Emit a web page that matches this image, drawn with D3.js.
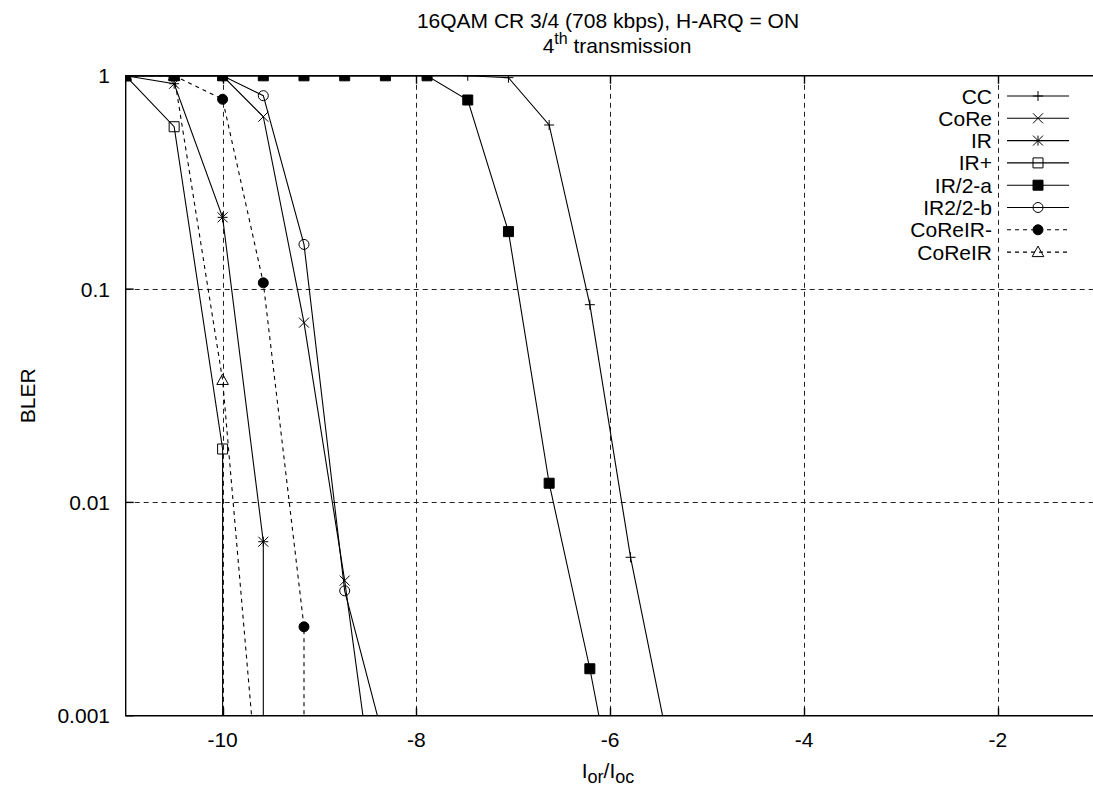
<!DOCTYPE html>
<html>
<head>
<meta charset="utf-8">
<script src="https://cdn.jsdelivr.net/npm/d3@7"></script>
<style>
  body { margin: 0; background: #fff; }
  svg { display: block; font-family: "Liberation Sans", Arial, Helvetica, sans-serif; }
</style>
</head>
<body>
<svg width="1093" height="787"></svg>
<script>
// I_or/I_oc levels (dB) and BLER per scheme.
// Values below 0.001 only set the slope of the last segment (clipped).
const cc = [[-11, 1], [-10.5, 1], [-10, 1], [-9.58, 1], [-9.16, 1], [-8.74, 1], [-8.32, 1],
  [-7.89, 1], [-7.47, 1], [-7.05, 0.98], [-6.63, 0.588], [-6.21, 0.0845], [-5.79, 0.00553], [-5.37, 0.00063]];
const core = [[-11, 1], [-10.5, 1], [-10, 1], [-9.58, 0.643], [-9.16, 0.0696], [-8.74, 0.0043], [-8.32, 0.000166]];
const ir = [[-11, 1], [-10.5, 0.918], [-10, 0.217], [-9.58, 0.00654], [-9.58, 0.0001]];
const irPlus = [[-11, 1], [-10.5, 0.577], [-10, 0.0178], [-10, 0.0001]];
const ir2a = [[-11, 1], [-10.5, 1], [-10, 1], [-9.58, 1], [-9.16, 1], [-8.74, 1], [-8.32, 1],
  [-7.89, 1], [-7.47, 0.77], [-7.05, 0.186], [-6.63, 0.0123], [-6.21, 0.00166], [-5.79, 0.00017]];
const ir22b = [[-11, 1], [-10.5, 1], [-10, 1], [-9.58, 0.807], [-9.16, 0.162], [-8.74, 0.00385], [-8.32, 0.00072]];
const coreIrMinus = [[-11, 1], [-10.5, 1], [-10, 0.776], [-9.58, 0.107], [-9.16, 0.00261], [-9.16, 0.0001]];
const coreIr = [[-11, 1], [-10.5, 1], [-10, 0.0375], [-9.58, 0.00023]];

const seriesNames = ['CC', 'CoRe', 'IR', 'IR+', 'IR/2-a', 'IR2/2-b', 'CoReIR-', 'CoReIR'];
const seriesData = [cc, core, ir, irPlus, ir2a, ir22b, coreIrMinus, coreIr];
const xTicks = [-10, -8, -6, -4, -2];
const yTicks = [1, 0.1, 0.01, 0.001];
const yTickLabels = ['1', '0.1', '0.01', '0.001'];

// point types in gnuplot order
const symbols = ['plus', 'times', 'star', 'square', 'squareFilled', 'circle', 'circleFilled', 'triangle'];
const dashed = [false, false, false, false, false, false, true, true];

const svg = d3.select('svg');
const fontSize = 21;

const x = d3.scaleLinear()
  .domain([-11, -1])
  .range([125.7, 1094.7]);

const y = d3.scaleLog()
  .domain([0.001, 1])
  .range([715.7, 75.8]);

const pLeft = x(-11), pRight = x(-1), pTop = y(1), pBottom = y(0.001);

svg.append('defs').append('clipPath')
  .attr('id', 'plot')
  .append('rect')
    .attr('x', pLeft)
    .attr('y', pTop)
    .attr('width', pRight - pLeft)
    .attr('height', pBottom - pTop);

// grid
const grid = svg.append('g')
  .attr('stroke', '#222')
  .attr('stroke-width', 1)
  .attr('stroke-dasharray', '5,4');

grid.selectAll('.vgrid')
  .data(xTicks)
  .enter().append('line')
    .attr('x1', d => Math.round(x(d)) + 0.5)
    .attr('x2', d => Math.round(x(d)) + 0.5)
    .attr('y1', pTop)
    .attr('y2', pBottom);

grid.selectAll('.hgrid')
  .data(yTicks.slice(1, 3))
  .enter().append('line')
    .attr('x1', pLeft)
    .attr('x2', pRight)
    .attr('y1', d => Math.round(y(d)) + 0.5)
    .attr('y2', d => Math.round(y(d)) + 0.5);

// border + inward ticks
const frame = svg.append('g')
  .attr('stroke', '#000')
  .attr('stroke-width', 1.4)
  .attr('fill', 'none');

frame.append('path')
  .attr('d', `M${pRight},${pTop}H${pLeft}V${pBottom}H${pRight}`);

frame.selectAll('.xtick')
  .data(xTicks)
  .enter().append('path')
    .attr('d', d => {
      const px = Math.round(x(d)) + 0.5;
      return `M${px},${pBottom}v-8M${px},${pTop}v8`;
    });

frame.selectAll('.ytick')
  .data(yTicks)
  .enter().append('path')
    .attr('d', d => `M${pLeft},${y(d)}h8`);

// tick labels
svg.append('g')
  .attr('font-size', fontSize)
  .attr('text-anchor', 'end')
  .selectAll('text')
  .data(yTicks)
  .enter().append('text')
    .attr('x', 110)
    .attr('y', d => y(d) + 7.5)
    .text((d, i) => yTickLabels[i]);

svg.append('g')
  .attr('font-size', fontSize)
  .attr('text-anchor', 'middle')
  .selectAll('text')
  .data(xTicks)
  .enter().append('text')
    .attr('x', d => x(d))
    .attr('y', 747)
    .text(d => d);

// titles
svg.append('text')
  .attr('font-size', fontSize)
  .attr('text-anchor', 'middle')
  .attr('x', 608)
  .attr('y', 28)
  .text('16QAM CR 3/4 (708 kbps), H-ARQ = ON');

const title2 = svg.append('text')
  .attr('font-size', fontSize)
  .attr('text-anchor', 'middle')
  .attr('x', 617)
  .attr('y', 53);
title2.append('tspan').text('4');
title2.append('tspan').attr('font-size', 16).attr('dy', -9).text('th');
title2.append('tspan').attr('dy', 9).text(' transmission');

svg.append('text')
  .attr('font-size', fontSize)
  .attr('text-anchor', 'middle')
  .attr('transform', `translate(35,${(pTop + pBottom) / 2}) rotate(-90)`)
  .text('BLER');

const xLabel = svg.append('text')
  .attr('font-size', fontSize)
  .attr('text-anchor', 'middle')
  .attr('x', 608)
  .attr('y', 778);
xLabel.append('tspan').text('I');
xLabel.append('tspan').attr('font-size', 18).attr('dy', 5).text('or');
xLabel.append('tspan').attr('dy', -5).text('/I');
xLabel.append('tspan').attr('font-size', 18).attr('dy', 5).text('oc');

// marker shapes
function marker(type) {
  const r = 5;
  switch (type) {
    case 'plus': return `M${-r},0H${r}M0,${-r}V${r}`;
    case 'times': return `M${-r},${-r}L${r},${r}M${-r},${r}L${r},${-r}`;
    case 'star': return `M${-r},0H${r}M0,${-r}V${r}M${-r},${-r}L${r},${r}M${-r},${r}L${r},${-r}`;
    case 'square':
    case 'squareFilled': return `M${-r},${-r}H${r}V${r}H${-r}Z`;
    case 'circle':
    case 'circleFilled': return d3.arc()({innerRadius: 0, outerRadius: r, startAngle: 0, endAngle: 2 * Math.PI});
    case 'triangle': return `M0,${-r - 1}L${r + 0.8},${r - 0.5}H${-r - 0.8}Z`;
  }
}

const filled = t => t === 'squareFilled' || t === 'circleFilled';

const line = d3.line()
  .x(d => x(d[0]))
  .y(d => y(d[1]));

const plot = svg.append('g')
  .attr('clip-path', 'url(#plot)');

seriesData.forEach((data, i) => {
  const s = plot.append('g');
  s.append('path')
    .datum(data)
    .attr('fill', 'none')
    .attr('stroke', '#000')
    .attr('stroke-width', 1.1)
    .attr('stroke-dasharray', dashed[i] ? '4,4' : null)
    .attr('d', line);

  s.selectAll('.pt')
    .data(data.filter(d => d[1] >= 0.001))
    .enter().append('path')
      .attr('transform', d => `translate(${x(d[0])},${y(d[1])})`)
      .attr('d', marker(symbols[i]))
      .attr('fill', filled(symbols[i]) ? '#000' : 'none')
      .attr('stroke', '#000')
      .attr('stroke-width', 1);
});

// legend
const legend = svg.append('g')
  .selectAll('g')
  .data(seriesNames)
  .enter().append('g')
    .attr('transform', (d, i) => `translate(0,${96 + i * 22.3})`);

legend.append('text')
  .attr('x', 992)
  .attr('y', 7.5)
  .attr('font-size', fontSize)
  .attr('text-anchor', 'end')
  .text(d => d);

legend.append('line')
  .attr('x1', 1007)
  .attr('x2', 1069)
  .attr('stroke', '#000')
  .attr('stroke-width', 1.1)
  .attr('stroke-dasharray', (d, i) => dashed[i] ? '4,4' : null);

legend.append('path')
  .attr('transform', 'translate(1038,0)')
  .attr('d', (d, i) => marker(symbols[i]))
  .attr('fill', (d, i) => filled(symbols[i]) ? '#000' : 'none')
  .attr('stroke', '#000')
  .attr('stroke-width', 1);
</script>
</body>
</html>
